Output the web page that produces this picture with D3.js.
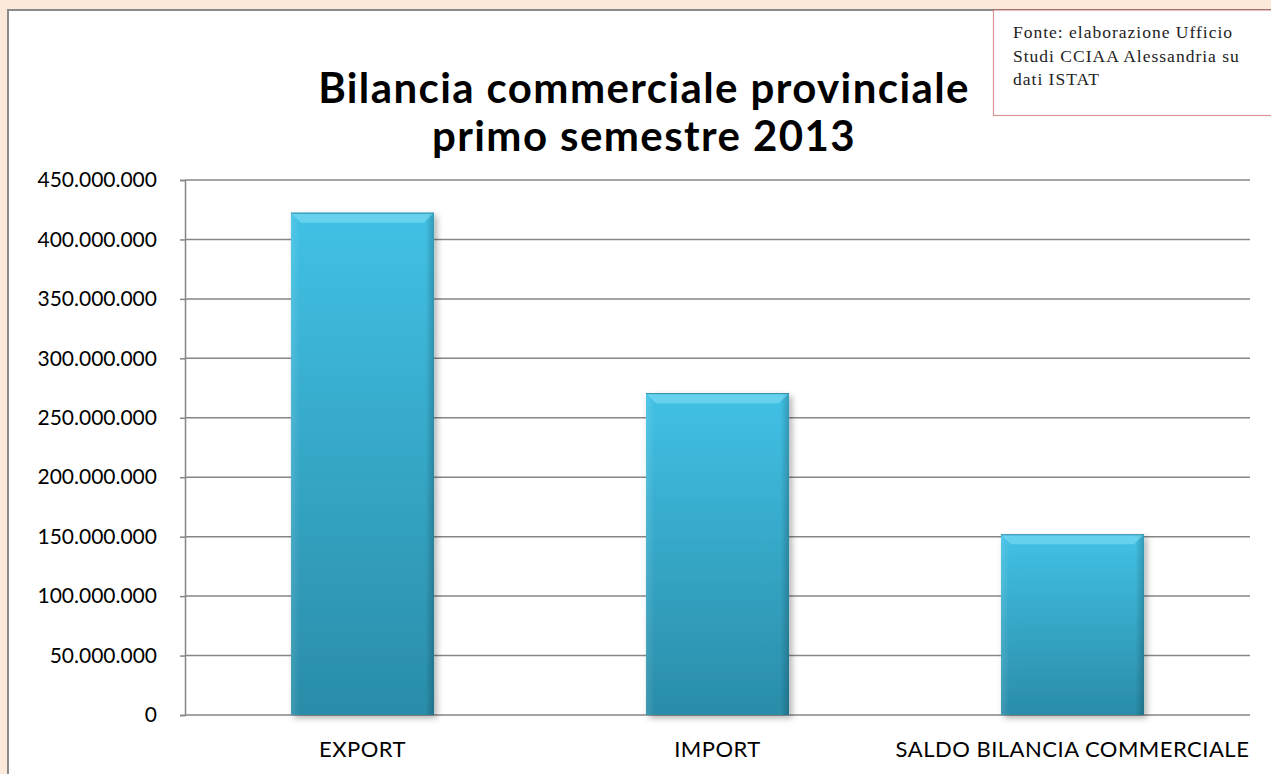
<!DOCTYPE html>
<html>
<head>
<meta charset="utf-8">
<script src="https://cdn.jsdelivr.net/npm/d3@7"></script>
<style>
  body { margin: 0; background: #fde9d9; overflow: hidden; }
</style>
</head>
<body>
<div id="chart-container"></div>
<script>
// data
const categories = ["EXPORT", "IMPORT", "SALDO BILANCIA COMMERCIALE"];
const values = [422500000, 270700000, 152000000];
const yTicks = [0, 50000000, 100000000, 150000000, 200000000, 250000000, 300000000, 350000000, 400000000, 450000000];
const titleLines = ["Bilancia commerciale provinciale", "primo semestre 2013"];
const sourceLines = ["Fonte: elaborazione Ufficio", "Studi CCIAA Alessandria su", "dati ISTAT"];

const width = 1271;
const height = 774;
const margin = { top: 180, right: 21, bottom: 59, left: 185 };
const innerW = width - margin.left - margin.right;
const innerH = height - margin.top - margin.bottom;

const svg = d3.select("#chart-container")
  .append("svg")
  .attr("width", width)
  .attr("height", height);

const defs = svg.append("defs");
const grad = defs.append("linearGradient")
  .attr("id", "barGrad").attr("x1", 0).attr("y1", 0).attr("x2", 0).attr("y2", 1);
grad.append("stop").attr("offset", "0%").attr("stop-color", "#41c1e5");
grad.append("stop").attr("offset", "100%").attr("stop-color", "#2a8ca8");

const sideGrad = defs.append("linearGradient")
  .attr("id", "sideGrad").attr("x1", 0).attr("y1", 0).attr("x2", 1).attr("y2", 0);
sideGrad.append("stop").attr("offset", "0%").attr("stop-color", "#ffffff").attr("stop-opacity", 0.12);
sideGrad.append("stop").attr("offset", "6%").attr("stop-color", "#ffffff").attr("stop-opacity", 0);
sideGrad.append("stop").attr("offset", "94%").attr("stop-color", "#000000").attr("stop-opacity", 0);
sideGrad.append("stop").attr("offset", "100%").attr("stop-color", "#000000").attr("stop-opacity", 0.2);

const shadow = defs.append("filter").attr("id", "shadow")
  .attr("x", "-20%").attr("y", "-10%").attr("width", "140%").attr("height", "120%");
shadow.append("feDropShadow")
  .attr("dx", 3).attr("dy", 3).attr("stdDeviation", 3)
  .attr("flood-color", "#000").attr("flood-opacity", 0.3);

// chart frame
svg.append("rect")
  .attr("x", 8).attr("y", 10)
  .attr("width", width).attr("height", height)
  .attr("fill", "#ffffff")
  .attr("stroke", "#8a8a8a")
  .attr("stroke-width", 2);

// title
svg.append("g").selectAll("text")
  .data(titleLines)
  .enter().append("text")
  .attr("x", 644)
  .attr("y", (d, i) => 103 + i * 48)
  .attr("text-anchor", "middle")
  .style("font-family", "Lato, 'Open Sans', sans-serif")
  .style("font-weight", "bold")
  .style("font-size", "42px")
  .style("letter-spacing", "1.4px")
  .attr("fill", "#000")
  .text(d => d);

// source box
svg.append("rect")
  .attr("x", 993.5).attr("y", 10)
  .attr("width", 300).attr("height", 105.5)
  .attr("fill", "#fff")
  .attr("stroke", "#c0504d")
  .attr("stroke-opacity", 0.6)
  .attr("stroke-width", 1.2);

svg.append("g").selectAll("text")
  .data(sourceLines)
  .enter().append("text")
  .attr("x", 1013)
  .attr("y", (d, i) => 38 + i * 23.5)
  .style("font-family", "'Liberation Serif', 'DejaVu Serif', serif")
  .style("font-size", "17.5px")
  .style("letter-spacing", "1px")
  .attr("fill", "#222")
  .text(d => d);

const g = svg.append("g")
  .attr("transform", "translate(" + margin.left + "," + margin.top + ")");

const x = d3.scaleBand()
  .range([0, innerW])
  .domain(categories)
  .paddingInner(0.597)
  .paddingOuter(0.2985);

const y = d3.scaleLinear()
  .range([innerH, 0])
  .domain([0, 450000000]);

const fmt = v => d3.format(",")(v).replace(/,/g, ".");

// y axis with gridlines
const yAxis = g.append("g")
  .call(d3.axisLeft(y).tickValues(yTicks).tickSize(5).tickFormat(fmt));
yAxis.select(".domain").attr("stroke", "#868686").attr("stroke-width", 1.5);
yAxis.selectAll(".tick line").attr("stroke", "#868686").attr("stroke-width", 1.5);
yAxis.selectAll(".tick text")
  .attr("x", -28)
  .style("font-family", "Lato, 'Open Sans', sans-serif")
  .style("font-size", "21px")
  .attr("fill", "#000");

g.append("g").selectAll("line.grid")
  .data(yTicks)
  .enter().append("line")
  .attr("class", "grid")
  .attr("x1", 0).attr("x2", innerW)
  .attr("y1", d => y(d)).attr("y2", d => y(d))
  .attr("stroke", "#868686")
  .attr("stroke-width", 1.5);

// bars
const bars = g.selectAll(".bar")
  .data(values)
  .enter().append("g")
  .attr("class", "bar");

bars.append("rect")
  .attr("x", (d, i) => x(categories[i]))
  .attr("width", x.bandwidth())
  .attr("y", d => y(d))
  .attr("height", d => innerH - y(d))
  .attr("fill", "url(#barGrad)")
  .attr("filter", "url(#shadow)");

bars.append("rect")
  .attr("x", (d, i) => x(categories[i]))
  .attr("width", x.bandwidth())
  .attr("y", d => y(d))
  .attr("height", d => innerH - y(d))
  .attr("fill", "url(#sideGrad)");

// top bevel
bars.append("path")
  .attr("d", (d, i) => {
    const x0 = x(categories[i]), x1 = x0 + x.bandwidth(), y0 = y(d);
    return "M" + x0 + "," + y0 + "L" + x1 + "," + y0 + "L" + (x1 - 10) + "," + (y0 + 10) +
      "L" + (x0 + 10) + "," + (y0 + 10) + "Z";
  })
  .attr("fill", "#80def5")
  .attr("opacity", 0.6);

bars.append("line")
  .attr("x1", (d, i) => x(categories[i]))
  .attr("x2", (d, i) => x(categories[i]) + x.bandwidth())
  .attr("y1", d => y(d) + 0.5)
  .attr("y2", d => y(d) + 0.5)
  .attr("stroke", "#2f8fa8")
  .attr("stroke-width", 1);

// x labels
g.append("g").selectAll("text.cat")
  .data(categories)
  .enter().append("text")
  .attr("class", "cat")
  .attr("x", d => x(d) + x.bandwidth() / 2)
  .attr("y", innerH + 42)
  .attr("text-anchor", "middle")
  .style("font-family", "Lato, 'Open Sans', sans-serif")
  .style("font-size", "22px")
  .style("letter-spacing", "0.5px")
  .attr("fill", "#000")
  .text(d => d);
</script>
</body>
</html>
